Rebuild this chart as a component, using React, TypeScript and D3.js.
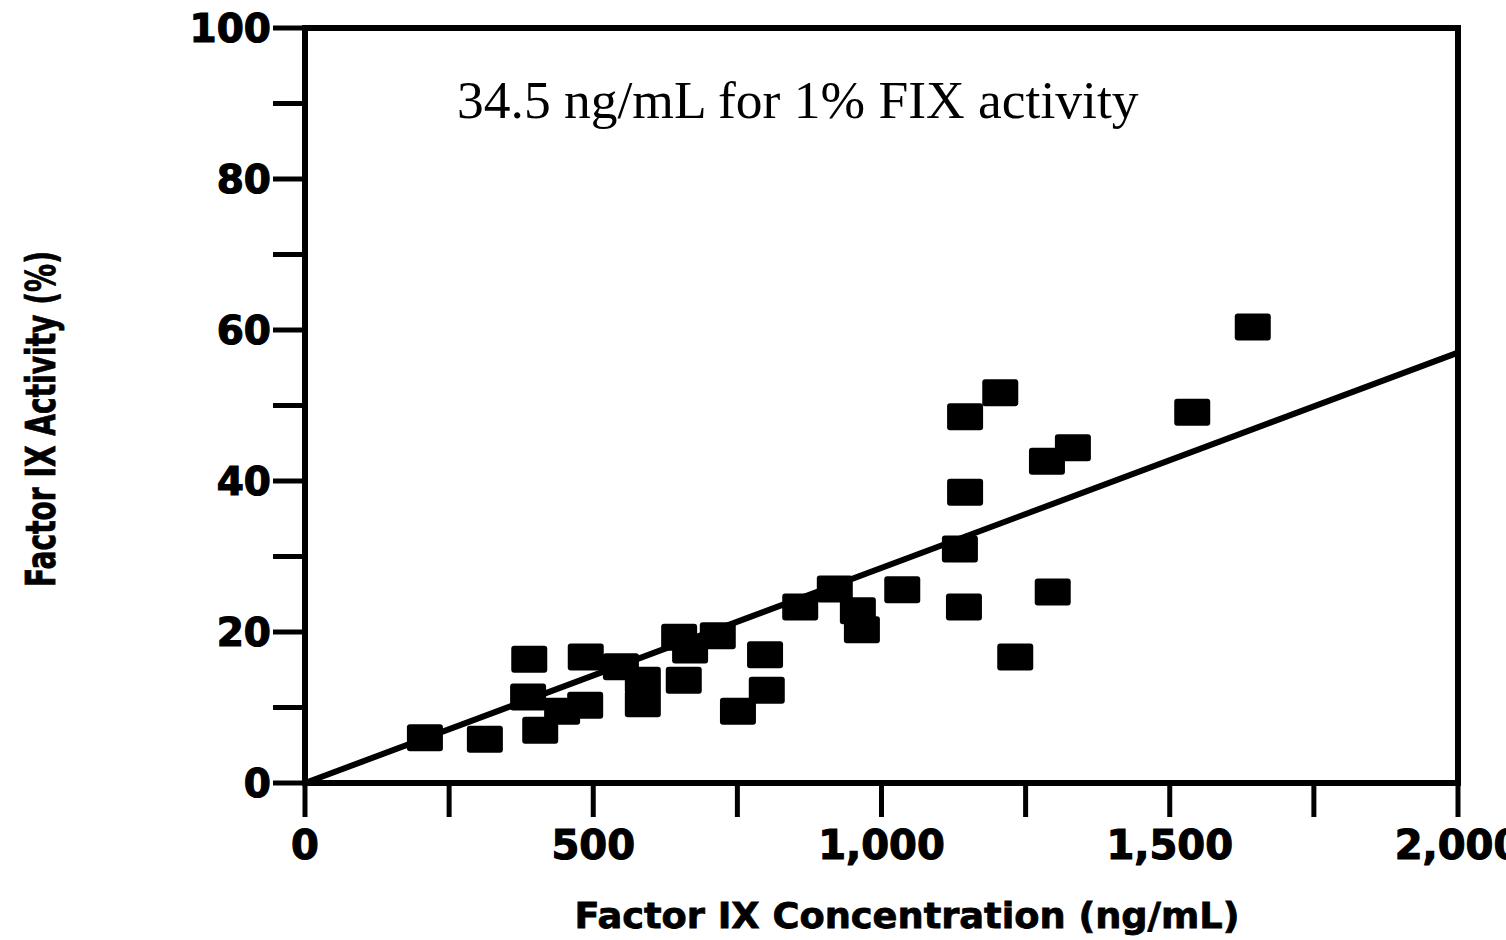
import React from "react";
import * as d3 from "d3";

// Data
const concentration = [
  208, 312, 389, 387, 408, 446, 486, 487, 548, 586, 586, 649, 668, 657, 716, 751, 798,
  801, 859, 919, 959, 966, 1036, 1136, 1145, 1145, 1143, 1206, 1232, 1287, 1332, 1297,
  1539, 1644,
];
const activity = [
  6.0, 5.8, 16.4, 11.4, 7.0, 9.5, 10.3, 16.7, 15.4, 13.6, 10.5, 19.3, 17.6, 13.6, 19.5,
  9.5, 17.0, 12.3, 23.3, 25.7, 22.8, 20.3, 25.6, 31.0, 38.5, 48.5, 23.3, 51.7, 16.7,
  42.6, 44.4, 25.3, 49.1, 60.4,
];
const fitLine = [
  [0, 0],
  [2000, 57],
];
const xTicks = [0, 250, 500, 750, 1000, 1250, 1500, 1750, 2000];
const xTickLabels = ["0", "", "500", "", "1,000", "", "1,500", "", "2,000"];
const yTicks = [0, 10, 20, 30, 40, 50, 60, 70, 80, 90, 100];
const yTickLabels = ["0", "", "20", "", "40", "", "60", "", "80", "", "100"];
const xTitle = "Factor IX Concentration (ng/mL)";
const yTitle = "Factor IX Activity (%)";
const annotation = "34.5 ng/mL for 1% FIX activity";

export default function App() {
  const W = 1506;
  const H = 940;
  const x = d3.scaleLinear().domain([0, 2000]).range([305, 1458]);
  const y = d3.scaleLinear().domain([0, 100]).range([783, 28]);
  const line = d3
    .line<number[]>()
    .x((d) => x(d[0]))
    .y((d) => y(d[1]));
  const sans = "'DejaVu Sans', Verdana, sans-serif";
  const mw = 36;
  const mh = 27;
  const x0 = x(0);
  const x1 = x(2000);
  const y0 = y(0);
  const y1 = y(100);
  const tickLen = 32;
  return (
    <svg
      width={W}
      height={H}
      style={{ position: "absolute", left: 0, top: 0, background: "#fff" }}
    >
      <rect x={0} y={0} width={W} height={H} fill="#fff" />
      {/* frame */}
      <rect
        x={x0}
        y={y1}
        width={x1 - x0}
        height={y0 - y1}
        fill="none"
        stroke="#000"
        strokeWidth={6}
      />
      {/* y ticks */}
      {yTicks.map((t, i) => (
        <g key={"yt" + i}>
          <line x1={x0 - tickLen} x2={x0} y1={y(t)} y2={y(t)} stroke="#000" strokeWidth={5} />
          {yTickLabels[i] && (
            <text
              x={271}
              y={y(t) + 14}
              textAnchor="end"
              fontFamily={sans}
              fontWeight="bold"
              fontSize={39}
              stroke="#000"
              strokeWidth={1.2}
              fill="#000"
            >
              {yTickLabels[i]}
            </text>
          )}
        </g>
      ))}
      {/* x ticks */}
      {xTicks.map((t, i) => (
        <g key={"xt" + i}>
          <line x1={x(t)} x2={x(t)} y1={y0} y2={y0 + 34} stroke="#000" strokeWidth={5} />
          {xTickLabels[i] && (
            <text
              x={x(t)}
              y={859}
              textAnchor="middle"
              fontFamily={sans}
              fontWeight="bold"
              fontSize={40}
              stroke="#000"
              strokeWidth={1.2}
              fill="#000"
            >
              {xTickLabels[i]}
            </text>
          )}
        </g>
      ))}
      {/* regression line */}
      <path d={line(fitLine) || ""} fill="none" stroke="#000" strokeWidth={6} />
      {/* points */}
      {concentration.map((c, i) => (
        <rect
          key={"p" + i}
          x={x(c) - mw / 2}
          y={y(activity[i]) - mh / 2}
          width={mw}
          height={mh}
          rx={3}
          fill="#000"
        />
      ))}
      {/* axis titles */}
      <text
        x={907}
        y={928}
        textAnchor="middle"
        fontFamily={sans}
        fontWeight="bold"
        fontSize={36}
        textLength={665}
        lengthAdjust="spacingAndGlyphs"
        stroke="#000"
        strokeWidth={0.8}
        fill="#000"
      >
        {xTitle}
      </text>
      <text
        transform={`translate(55,419) rotate(-90)`}
        textAnchor="middle"
        fontFamily={sans}
        fontWeight="bold"
        fontSize={40}
        textLength={336}
        lengthAdjust="spacingAndGlyphs"
        stroke="#000"
        strokeWidth={0.8}
        fill="#000"
      >
        {yTitle}
      </text>
      {/* annotation */}
      <text
        x={457}
        y={118}
        fontFamily="'Liberation Serif', 'Times New Roman', serif"
        fontSize={53.5}
        fill="#000"
      >
        {annotation}
      </text>
    </svg>
  );
}
